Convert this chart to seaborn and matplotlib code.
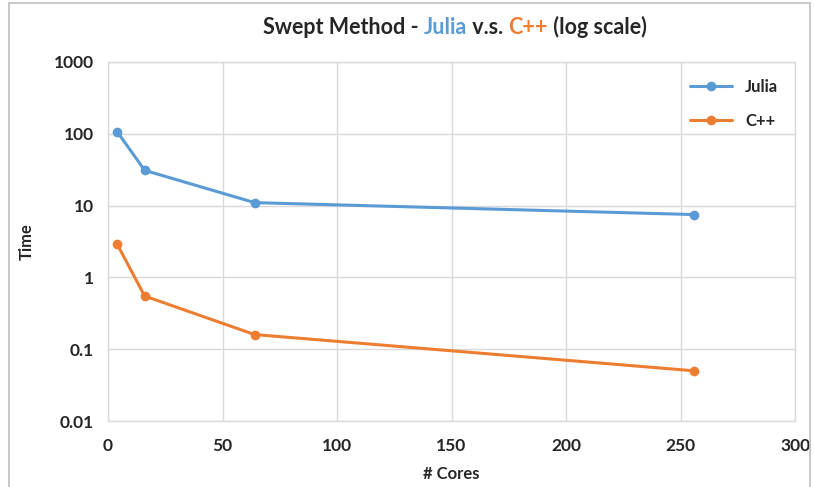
import seaborn as sns
import matplotlib.pyplot as plt
import pandas as pd
from matplotlib.patches import Rectangle

cores = [4, 16, 64, 256]
julia_time = [107, 31, 11, 7.5]
cpp_time = [2.9, 0.55, 0.16, 0.05]
x_ticks = [0, 50, 100, 150, 200, 250, 300]
y_ticks = [0.01, 0.1, 1, 10, 100, 1000]
y_labels = ["0.01", "0.1", "1", "10", "100", "1000"]

blue = "#5B9BD5"
orange = "#ED7D31"

sns.set_style("white")
plt.rcParams["font.family"] = ["Lato", "DejaVu Sans"]

data = pd.DataFrame({
    "cores": cores * 2,
    "time": julia_time + cpp_time,
    "lang": ["Julia"] * 4 + ["C++"] * 4,
})

fig = plt.figure(figsize=(8.14, 4.87), dpi=100)
ax = fig.add_axes([0.1327, 0.1355, 0.844, 0.7372])

sns.lineplot(data=data, x="cores", y="time", hue="lang",
             palette={"Julia": blue, "C++": orange},
             marker="o", markersize=7, markeredgewidth=0, linewidth=2.2,
             ax=ax)

ax.set_yscale("log")
ax.set_xlim(0, 300)
ax.set_ylim(0.01, 1000)
ax.set_xticks(x_ticks)
ax.set_yticks(y_ticks)
ax.set_yticklabels(y_labels)
ax.minorticks_off()
ax.tick_params(axis="both", length=0, labelsize=12.5)
ax.tick_params(axis="x", pad=12)
ax.tick_params(axis="y", pad=10)
for lbl in ax.get_xticklabels() + ax.get_yticklabels():
    lbl.set_fontweight("bold")
ax.grid(True, color="#D9D9D9", linewidth=1)
for s in ax.spines.values():
    s.set_color("#D9D9D9")
    s.set_linewidth(1)

ax.set_xlabel("# Cores", fontsize=12, fontweight="bold", labelpad=9)
ax.set_ylabel("Time", fontsize=12, fontweight="bold", labelpad=14)

leg = ax.legend(loc="upper right", frameon=False, fontsize=12,
                handlelength=2.5, labelspacing=1.1, borderaxespad=0.6)
for t in leg.get_texts():
    t.set_fontweight("bold")

# title with coloured words
parts = [("Swept Method - ", "#262626"), ("Julia", blue), (" v.s. ", "#262626"),
         ("C++", orange), (" (log scale)", "#262626")]
fig.canvas.draw()
renderer = fig.canvas.get_renderer()
texts = []
total = 0
for s, c in parts:
    t = fig.text(0, 0.944, s, color=c, fontsize=15.5, fontweight="bold", va="center")
    w = t.get_window_extent(renderer).width
    texts.append((t, w))
    total += w
x0 = (0.5585 * fig.bbox.width) - total / 2
for t, w in texts:
    t.set_x(x0 / fig.bbox.width)
    x0 += w

# chart border
fig.patches.append(Rectangle((0.011, -0.01), 0.984, 1.003, transform=fig.transFigure,
                             fill=False, edgecolor="#BFBFBF", linewidth=1.2))

fig.savefig("out.png", dpi=100)
